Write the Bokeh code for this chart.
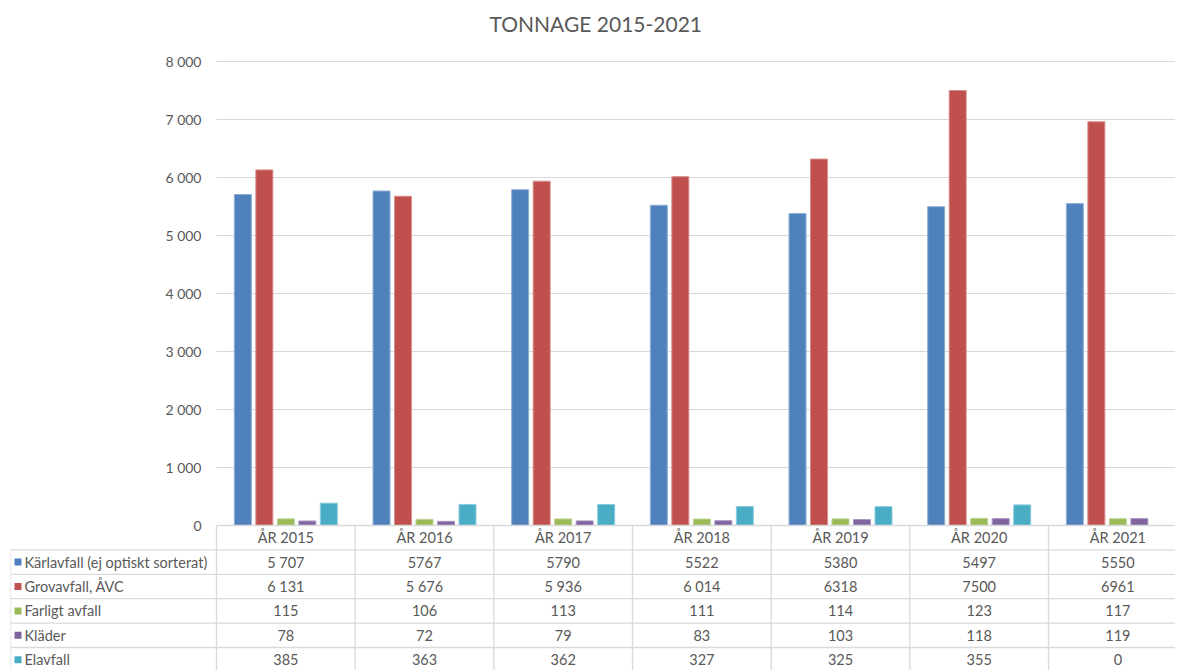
from bokeh.plotting import figure
from bokeh.models import Range1d, FixedTicker
from bokeh.embed import file_html
from bokeh.resources import INLINE
from bokeh.core.properties import value

# ---------------- data ----------------
title_text = "TONNAGE 2015-2021"
years = ["ÅR 2015", "ÅR 2016", "ÅR 2017", "ÅR 2018", "ÅR 2019", "ÅR 2020", "ÅR 2021"]
series_names = ["Kärlavfall (ej optiskt sorterat)", "Grovavfall, ÅVC", "Farligt avfall", "Kläder", "Elavfall"]
karlavfall = ["5 707", "5767", "5790", "5522", "5380", "5497", "5550"]
grovavfall = ["6 131", "5 676", "5 936", "6 014", "6318", "7500", "6961"]
farligt_avfall = ["115", "106", "113", "111", "114", "123", "117"]
klader = ["78", "72", "79", "83", "103", "118", "119"]
elavfall = ["385", "363", "362", "327", "325", "355", "0"]
series_labels = [karlavfall, grovavfall, farligt_avfall, klader, elavfall]
colors = ["#4F81BD", "#C0504D", "#9BBB59", "#8064A2", "#4BACC6"]
edge_colors = ["#8FAFD6", "#D88E8B", "#BDD393", "#AA97C2", "#8ACCDC"]
ytick_values = [0, 1000, 2000, 3000, 4000, 5000, 6000, 7000, 8000]
ytick_labels = ["0", "1 000", "2 000", "3 000", "4 000", "5 000", "6 000", "7 000", "8 000"]

series_values = [[float(s.replace(" ", "")) for s in lab] for lab in series_labels]

# ---------------- layout constants (pixels) ----------------
FONT = "Lato"
TXT = "#595959"
GRID = "#D9D9D9"
W, H = 1175, 670
TOP = 40                 # frame top
ZERO = 525               # pixel row of value 0
PX_PER_1000 = 58.0
FRAME_L = 10             # frame left (table left edge)
PLOT_L = 216             # left edge of first category
CAT = 138.67             # px per category
ROW_PX = 24.4            # table row height

U = 1000.0 / PX_PER_1000           # data units per pixel (vertical)
X_START = -(PLOT_L - FRAME_L) / CAT
X_END = (W - PLOT_L) / CAT
Y_TOP = (ZERO - TOP) * U
Y_BOT = -(H - ZERO) * U
ROW = ROW_PX * U
SLOT = 0.155
BAR_W = 0.1226
n = len(years)
ns = len(series_names)

p = figure(width=W, height=H, x_range=Range1d(X_START, X_END), y_range=Range1d(Y_BOT, Y_TOP),
           output_backend="svg", toolbar_location=None, x_axis_location=None,
           min_border_left=FRAME_L, min_border_right=0, min_border_top=TOP, min_border_bottom=0,
           title=title_text)
p.title.text_font = FONT
p.title.text_font_size = "21px"
p.title.text_font_style = "normal"
p.title.text_color = TXT
p.title.align = "left"
p.title.offset = 489 - FRAME_L
p.outline_line_color = None
p.grid.visible = False

ya = p.yaxis[0]
ya.ticker = FixedTicker(ticks=ytick_values)
ya.major_label_overrides = dict(zip(ytick_values, ytick_labels))
ya.axis_line_color = None
ya.major_tick_line_color = None
ya.minor_tick_line_color = None
ya.major_tick_out = 0
ya.major_tick_in = 0
ya.major_label_standoff = -(PLOT_L - 15 - FRAME_L)
ya.major_label_text_font = FONT
ya.major_label_text_font_size = "14px"
ya.major_label_text_color = TXT

# horizontal gridlines at the axis ticks (only across the plot area)
gy = ytick_values[1:]
p.segment(x0=[0] * len(gy), y0=gy, x1=[X_END] * len(gy), y1=gy, line_color=GRID, line_width=1.2)

# bars
for k in range(ns):
    xs = [i + 0.5 + (k - (ns - 1) / 2) * SLOT for i in range(n)]
    p.vbar(x=xs, width=BAR_W, bottom=0, top=series_values[k], fill_color=colors[k],
           line_color=edge_colors[k], line_width=1)

# ---------------- data table ----------------
hy = [-r * ROW for r in range(ns + 1)]
hx0 = [0] + [X_START] * ns
p.segment(x0=hx0, y0=hy, x1=[X_END] * (ns + 1), y1=hy, line_color=GRID, line_width=1.3)
vx = [X_START] + list(range(n))
vy0 = [-ROW] + [0] * n
p.segment(x0=vx, y0=vy0, x1=vx, y1=[Y_BOT] * (n + 1), line_color=GRID, line_width=1.3)

cx = [i + 0.5 for i in range(n)]
p.text(x=cx, y=[-0.5 * ROW] * n, text=years, text_align="center",
       text_baseline="middle", text_font=value(FONT), text_font_size="14.5px", text_color=TXT)
row_y = [-(k + 1.5) * ROW for k in range(ns)]
for k in range(ns):
    p.text(x=cx, y=[row_y[k]] * n, text=series_labels[k], text_align="center",
           text_baseline="middle", text_font=value(FONT), text_font_size="14.5px", text_color=TXT)
p.scatter(x=[X_START + 7.5 / CAT] * ns, y=row_y, marker="square", size=7,
          fill_color=colors, line_color=None)
p.text(x=[X_START + 14 / CAT] * ns, y=row_y, text=series_names, text_align="left",
       text_baseline="middle", text_font=value(FONT), text_font_size="14.5px", text_color=TXT)

open("out.html", "w").write(file_html(p, INLINE))
